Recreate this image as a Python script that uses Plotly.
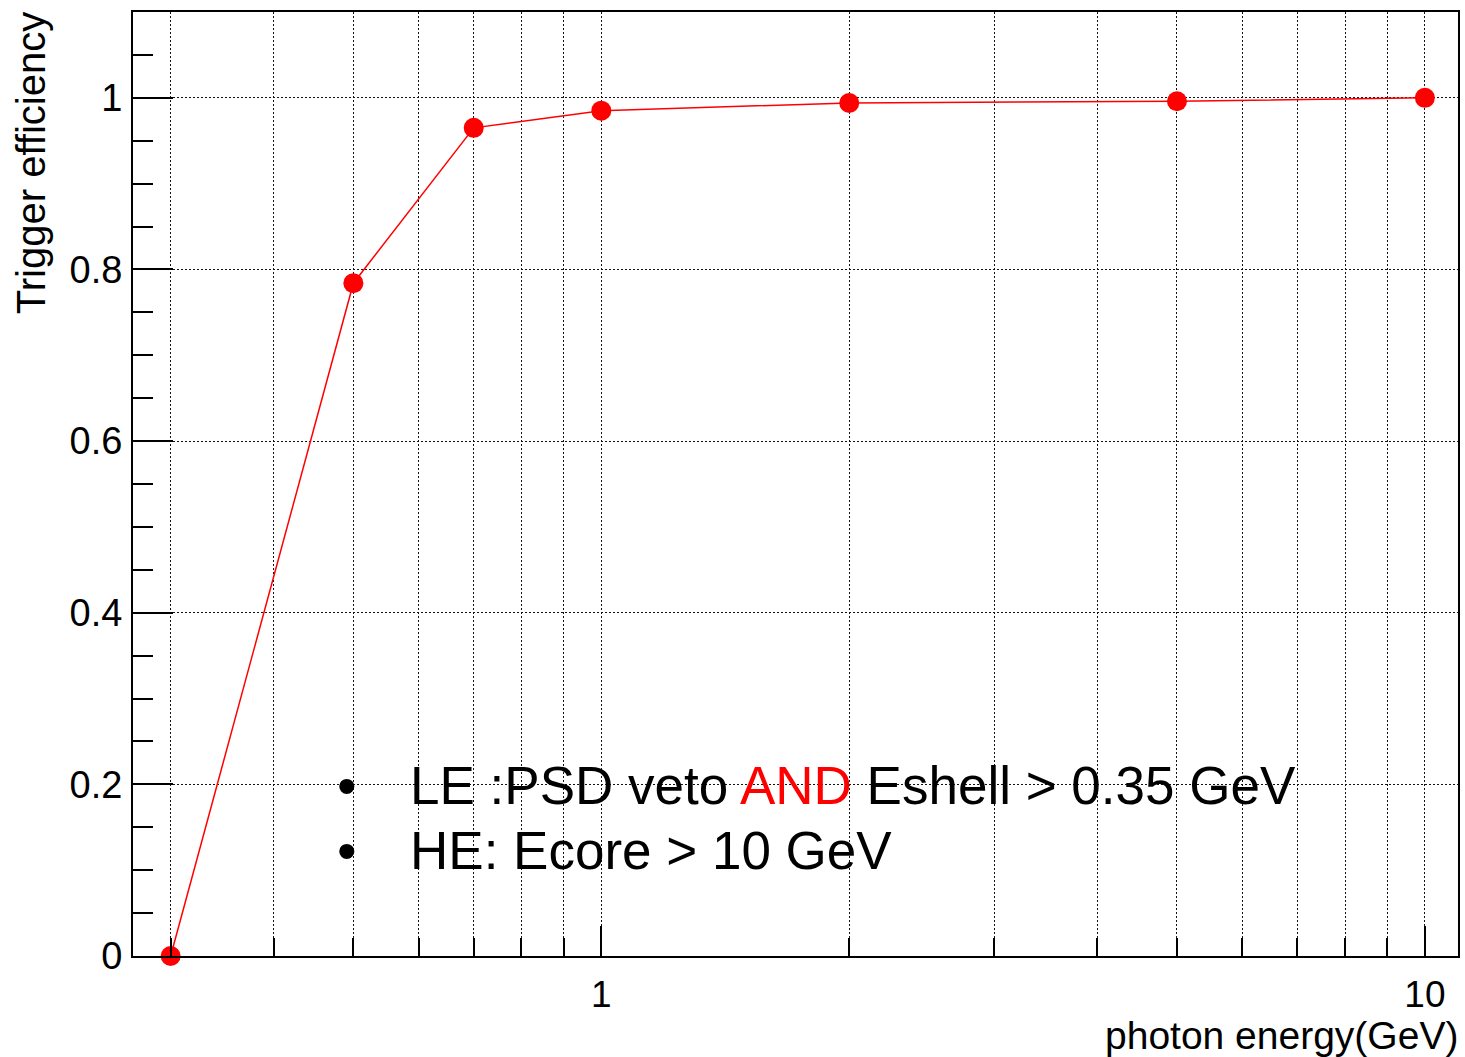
import plotly.graph_objects as go

# ---- data ----
energy = [0.3, 0.5, 0.7, 1, 2, 5, 10]
efficiency = [0.0, 0.784, 0.965, 0.985, 0.994, 0.996, 1.0]

x_major_ticks = [1, 10]
x_major_text = ["1", "10"]
x_minor_ticks = [0.3, 0.4, 0.5, 0.6, 0.7, 0.8, 0.9, 2, 3, 4, 5, 6, 7, 8, 9]
y_major_ticks = [0, 0.2, 0.4, 0.6, 0.8, 1.0]
y_major_text = ["0", "0.2", "0.4", "0.6", "0.8", "1"]
y_minor_ticks = [0.05, 0.1, 0.15, 0.25, 0.3, 0.35, 0.45, 0.5, 0.55, 0.65, 0.7, 0.75,
                 0.85, 0.9, 0.95, 1.05]

line1 = "LE :PSD veto <span style='color:#ff0000'>AND</span> Eshell > 0.35 GeV"
line2 = "HE: Ecore > 10 GeV"

# ---- layout geometry (pixels) ----
W, H = 1465, 1057
L, R, T, B = 133, 5, 12, 101
PW = W - L - R
PH = H - T - B


def px(xp):
    return (xp - L) / PW


def py(yp):
    return (H - B - yp) / PH


FONT = "Liberation Sans, Arial, Helvetica, sans-serif"
GRID = "#111111"
DASH = "1.5px,2.5px"

fig = go.Figure()
fig.add_trace(go.Scatter(
    x=energy, y=efficiency, mode="lines+markers",
    line=dict(color="#ff0000", width=1.5),
    marker=dict(color="#ff0000", size=20, symbol="circle"),
    cliponaxis=False,
))

fig.update_layout(
    width=W, height=H,
    margin=dict(l=L, r=R, t=T, b=B, pad=0),
    paper_bgcolor="white", plot_bgcolor="white",
    showlegend=False,
    font=dict(family=FONT, color="black"),
    xaxis=dict(
        type="log", range=[-0.5686, 1.0402],
        tickmode="array", tickvals=x_major_ticks, ticktext=x_major_text,
        ticks="inside", ticklen=30, tickwidth=1.5, tickcolor="black",
        tickfont=dict(size=37, family=FONT, color="black"),
        ticklabelstandoff=5,
        showgrid=True, gridcolor=GRID, gridwidth=1.2, griddash=DASH,
        showline=True, mirror=True, linecolor="black", linewidth=2,
        zeroline=False,
        minor=dict(tickmode="array", tickvals=x_minor_ticks, ticks="inside",
                   ticklen=18, tickwidth=1.5, tickcolor="black",
                   showgrid=True, gridcolor=GRID, gridwidth=1.2, griddash=DASH),
    ),
    yaxis=dict(
        range=[0, 1.1],
        tickmode="array", tickvals=y_major_ticks, ticktext=y_major_text,
        ticks="inside", ticklen=40, tickwidth=1.5, tickcolor="black",
        tickfont=dict(size=38, family=FONT, color="black"),
        ticklabelstandoff=1,
        showgrid=True, gridcolor=GRID, gridwidth=1.2, griddash=DASH,
        showline=True, mirror=True, linecolor="black", linewidth=2,
        zeroline=False,
        minor=dict(tickmode="array", tickvals=y_minor_ticks, ticks="inside",
                   ticklen=20, tickwidth=1.5, tickcolor="black", showgrid=False),
    ),
)

annotations = [
    dict(text="Trigger efficiency", textangle=-90, xref="paper", yref="paper",
         x=px(31), y=py(10), xanchor="center", yanchor="top", showarrow=False,
         font=dict(size=40, family=FONT, color="black")),
    dict(text="photon energy(GeV)", xref="paper", yref="paper",
         x=px(1462), y=py(1035), xanchor="right", yanchor="middle", showarrow=False,
         font=dict(size=39, family=FONT, color="black")),
    dict(text="\u2022", xref="paper", yref="paper", x=px(347), y=py(785),
         xanchor="center", yanchor="middle", showarrow=False,
         font=dict(size=56, family=FONT, color="black")),
    dict(text="\u2022", xref="paper", yref="paper", x=px(347), y=py(850),
         xanchor="center", yanchor="middle", showarrow=False,
         font=dict(size=56, family=FONT, color="black")),
    dict(text=line1, xref="paper", yref="paper", x=px(408), y=py(785),
         xanchor="left", yanchor="middle", showarrow=False,
         font=dict(size=53, family=FONT, color="black")),
    dict(text=line2, xref="paper", yref="paper", x=px(408), y=py(850),
         xanchor="left", yanchor="middle", showarrow=False,
         font=dict(size=53, family=FONT, color="black")),
]
fig.update_layout(annotations=annotations)

fig.write_html("out.html")
